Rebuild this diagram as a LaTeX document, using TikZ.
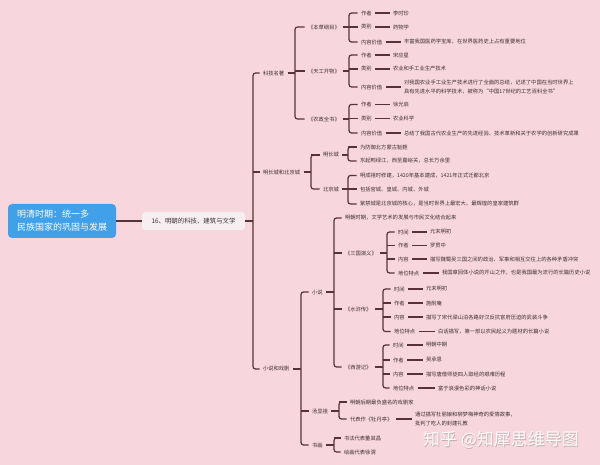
\documentclass[tikz,border=0pt]{standalone}
\usepackage{fontspec}
\setmainfont{Noto Sans CJK SC}
\definecolor{bg}{RGB}{248,214,221}
\definecolor{lc}{RGB}{88,50,58}
\definecolor{tc}{RGB}{62,48,52}
\definecolor{rootc}{RGB}{64,160,234}
\definecolor{cenc}{RGB}{246,238,240}
\tikzset{
  conn/.style={draw=lc, line width=1.2pt},
  t/.style={anchor=west, inner sep=0.5pt, outer sep=3pt, text=tc,
            font=\fontsize{5.3}{9.5}\selectfont, align=left},
}
\newcommand\N[4]{\node[t,xshift=-3.5pt] (#1) at (#2,#3) {#4};}
\newcommand\V[2]{\draw[conn] (#1.east) -- (#2.west);}
\newcommand\tree[5]{%
  \draw[conn] (#1.east) -- (#2,0 |- #1.east);
  \draw[conn,rounded corners=2.5pt] (#3.west) -- (#2,0 |- #3.west) -- (#2,0 |- #4.west) -- (#4.west);
  \foreach \m in {#5} {\draw[conn] (#2,0 |- \m.west) -- (\m.west);}
}
\begin{document}
\begin{tikzpicture}[x=1pt,y=-1pt]
\useasboundingbox[fill=bg] (0,0) rectangle (600,465);

% root and centre
\node[fill=rootc, rounded corners=4pt, minimum width=108pt, minimum height=34pt,
      text=white, font=\fontsize{9}{13}\selectfont, align=left, inner sep=0pt]
      (root) at (62,221) {明清时期：统一多\\民族国家的巩固与发展};
\node[fill=cenc, rounded corners=3pt, minimum width=103pt, minimum height=18pt,
      text=tc, font=\fontsize{6.4}{8}\selectfont, inner sep=0pt]
      (cen) at (193.5,221) {16、明朝的科技、建筑与文学};
\draw[conn] (root.east) -- (cen.west);

% level 2
\N{kj}{263}{73}{科技名著}
\N{cc}{263}{172}{明长城和北京城}
\N{xs}{263}{369}{小说和戏剧}
\draw[conn] (cen.east) -- (253,221);
\draw[conn,rounded corners=2.5pt] (kj.west) -- (253,0 |- kj.west) -- (253,0 |- xs.west) -- (xs.west);
\draw[conn] (253,0 |- cc.west) -- (cc.west);

% 科技名著
\N{bc}{308}{27}{《本草纲目》}
\N{tg}{308}{71}{《天工开物》}
\N{nz}{308}{119}{《农政全书》}
\N{bc1}{361}{13}{作者} \N{bc1v}{393}{13}{李时珍}
\N{bc2}{361}{27}{类别} \N{bc2v}{393}{27}{药物学}
\N{bc3}{361}{42}{内容价值} \N{bc3v}{404}{42}{丰富我国医药学宝库，在世界医药史上占有重要地位}
\N{tg1}{361}{55}{作者} \N{tg1v}{393}{55}{宋应星}
\N{tg2}{361}{69}{类别} \N{tg2v}{393}{69}{农业和手工业生产技术}
\N{tg3}{361}{87}{内容价值} \N{tg3v}{404}{87}{对我国农业手工业生产技术进行了全面的总结，记述了中国在当时世界上\\具有先进水平的科学技术，被称为“中国17世纪的工艺百科全书”}
\N{nz1}{361}{104.5}{作者} \N{nz1v}{393}{104.5}{徐光启}
\N{nz2}{361}{118.5}{类别} \N{nz2v}{393}{118.5}{农业科学}
\N{nz3}{361}{133}{内容价值} \N{nz3v}{404}{133}{总结了我国古代农业生产的先进经验、技术革新和关于农学的创新研究成果}
\tree{kj}{295}{bc}{nz}{tg}
\tree{bc}{349}{bc1}{bc3}{bc2}
\tree{tg}{349}{tg1}{tg3}{tg2}
\tree{nz}{349}{nz1}{nz3}{nz2}
\V{bc1}{bc1v} \V{bc2}{bc2v} \V{bc3}{bc3v}
\V{tg1}{tg1v} \V{tg2}{tg2v} \V{tg3}{tg3v}
\V{nz1}{nz1v} \V{nz2}{nz2v} \V{nz3}{nz3v}

% 明长城和北京城
\N{cg}{323}{155}{明长城}
\N{bj}{323}{189}{北京城}
\N{cg1}{360}{147}{为防御北方蒙古鞑靼}
\N{cg2}{360}{161}{东起鸭绿江，西至嘉峪关，总长万余里}
\N{bj1}{360}{175.5}{明成祖时修建，1420年基本建成，1421年正式迁都北京}
\N{bj2}{360}{189}{包括宫城、皇城、内城、外城}
\N{bj3}{360}{204}{紫禁城是北京城的核心，是当时世界上最宏大、最辉煌的皇家建筑群}
\tree{cc}{311}{cg}{bj}{cg}
\tree{cg}{348}{cg1}{cg2}{cg1}
\tree{bj}{348}{bj1}{bj3}{bj2}

% 小说和戏剧
\N{xsh}{312}{292}{小说}
\N{tx}{312}{411}{汤显祖}
\N{shh}{312}{445}{书画}
\N{xs0}{345}{218}{明朝时期，文学艺术的发展与市民文化结合起来}
\N{sg}{345}{253}{《三国演义》}
\N{sh}{345}{309}{《水浒传》}
\N{xy}{345}{367}{《西游记》}
\N{sg1}{398}{232}{时间} \N{sg1v}{430}{232}{元末明初}
\N{sg2}{398}{245.5}{作者} \N{sg2v}{430}{245.5}{罗贯中}
\N{sg3}{398}{259}{内容} \N{sg3v}{430}{259}{描写魏蜀吴三国之间的政治、军事和相互交往上的各种矛盾冲突}
\N{sg4}{398}{273}{地位特点} \N{sg4v}{442}{273}{我国章回体小说的开山之作，也是我国最为流行的长篇历史小说}
\N{sh1}{394}{289}{时间} \N{sh1v}{426}{289}{元末明初}
\N{sh2}{394}{303}{作者} \N{sh2v}{426}{303}{施耐庵}
\N{sh3}{394}{317}{内容} \N{sh3v}{426}{317}{描写了宋代梁山泊各路好汉反抗官府压迫的武装斗争}
\N{sh4}{394}{331.5}{地位特点} \N{sh4v}{438}{331.5}{白话描写，第一部以农民起义为题材的长篇小说}
\N{xy1}{393}{345}{时间} \N{xy1v}{426}{345}{明朝中期}
\N{xy2}{393}{360}{作者} \N{xy2v}{426}{360}{吴承恩}
\N{xy3}{393}{374}{内容} \N{xy3v}{426}{374}{描写唐僧师徒四人取经的艰难历程}
\N{xy4}{393}{388}{地位特点} \N{xy4v}{438}{388}{富于浪漫色彩的神话小说}
\N{tx1}{350}{402}{明朝后期最负盛名的戏剧家}
\N{tx2}{350}{419}{代表作《牡丹亭》}
\N{tx2v}{415}{419}{通过描写杜丽娘和柳梦梅神奇的爱情故事，\\批判了吃人的封建礼教}
\N{shh1}{344}{438}{书法代表董其昌}
\N{shh2}{344}{452}{绘画代表徐渭}
\tree{xs}{301}{xsh}{shh}{tx}
\tree{xsh}{334}{xs0}{xy}{sg,sh}
\tree{sg}{387}{sg1}{sg4}{sg2,sg3}
\tree{sh}{383}{sh1}{sh4}{sh2,sh3}
\tree{xy}{383}{xy1}{xy4}{xy2,xy3}
\tree{tx}{339}{tx1}{tx2}{tx1}
\tree{shh}{334}{shh1}{shh2}{shh1}
\V{sg1}{sg1v} \V{sg2}{sg2v} \V{sg3}{sg3v} \V{sg4}{sg4v}
\V{sh1}{sh1v} \V{sh2}{sh2v} \V{sh3}{sh3v} \V{sh4}{sh4v}
\V{xy1}{xy1v} \V{xy2}{xy2v} \V{xy3}{xy3v} \V{xy4}{xy4v}
\V{tx2}{tx2v}

% watermark
\node[font=\fontsize{17}{17}\selectfont, text=gray, opacity=0.45, inner sep=0pt] (wms) at (501.8,440.8) {知乎 @知犀思维导图};
\node[font=\fontsize{17}{17}\selectfont, text=white, opacity=0.9, inner sep=0pt] (wm) at (501,440) {知乎 @知犀思维导图};
\end{tikzpicture}
\end{document}
